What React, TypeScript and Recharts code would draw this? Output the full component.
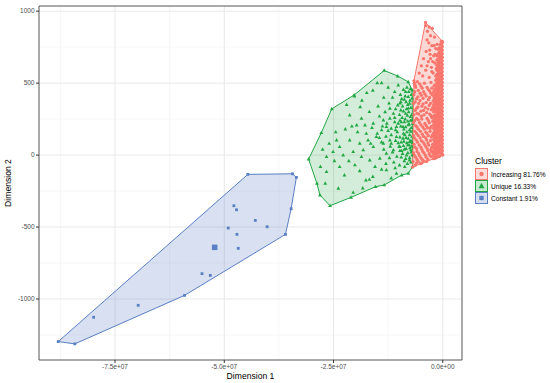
import React from "react";
import {
  ScatterChart,
  Scatter,
  XAxis,
  YAxis,
  CartesianGrid,
  ReferenceArea,
  Legend,
} from "recharts";

// x values are in millions (×1e6), y values as-is
const constantHull: [number, number][] = [
  [-88.0, -1296], [-84.2, -1312], [-59.1, -975], [-36.0, -551], [-34.7, -373],
  [-33.5, -155], [-34.4, -130], [-44.6, -134],
];
const constantInner: [number, number][] = [
  [-79.9, -1127], [-69.7, -1044], [-55.1, -824], [-53.2, -836], [-49.1, -507],
  [-47.8, -352], [-47.2, -380], [-47.1, -551], [-46.8, -648], [-42.9, -454], [-40.2, -498],
];
const constantBig: [number, number][] = [[-52.2, -641]];

const uniqueHull: [number, number][] = [
  [-30.7, -28], [-27.8, 155], [-25.4, 321], [-20.3, 417], [-13.4, 588], [-10.3, 549],
  [-7.9, 509], [-7.0, 451], [-6.9, -81], [-7.9, -127], [-9.4, -139], [-13.4, -208], [-15.4, -220],
  [-21.0, -294], [-25.8, -352], [-28.1, -278], [-28.8, -197],
];
const uniqueInner: [number, number][] = [
  [-15.0, 502], [-14.0, 502], [-20.2, 410], [-17.4, 433], [-10.2, 486], [-7.9, 405], [-8.8, 386],
  [-9.6, 370], [-10.3, 347], [-7.6, 359], [-14.8, 340], [-18.9, 335], [-16.8, 301], [-21.3, 278],
  [-18.6, 255], [-19.7, 208], [-17.8, 208], [-15.9, 220], [-13.6, 243], [-12.1, 255], [-11.3, 289],
  [-12.1, 324], [-9.6, 312], [-8.5, 289], [-7.4, 266], [-14.0, 174], [-12.9, 197], [-11.8, 185],
  [-10.6, 197], [-9.1, 197], [-7.6, 174], [-6.9, 220], [-15.2, 127], [-17.1, 104], [-19.0, 81],
  [-21.3, 104], [-23.6, 58], [-24.3, 104], [-25.1, 23], [-26.6, -12], [-22.8, 0], [-20.5, 23],
  [-18.2, 35], [-15.9, 58], [-13.6, 81], [-12.1, 104], [-10.6, 127], [-9.1, 116], [-7.6, 93],
  [-9.8, 58], [-11.3, 35], [-12.9, 12], [-14.4, -23], [-16.7, -35], [-18.6, -12], [-20.1, -69],
  [-23.6, -81], [-26.6, -116], [-22.5, -139], [-17.6, -174], [-16.8, -170], [-12.9, -104],
  [-10.6, -127], [-8.7, -81], [-7.6, -35], [-26.9, -197], [-23.9, -232],
  [-7.2, 420], [-7.5, 380], [-8.0, 350], [-7.3, 330], [-7.8, 300], [-8.3, 320], [-7.1, 280],
  [-8.6, 250], [-7.4, 240], [-7.9, 210], [-8.8, 230], [-9.3, 260], [-7.2, 190], [-8.2, 160],
  [-7.6, 140], [-9.0, 150], [-8.4, 120], [-7.3, 100], [-9.5, 90], [-8.0, 70], [-7.5, 50],
  [-8.8, 40], [-10.0, 60], [-7.2, 20], [-8.3, 0], [-9.2, 10], [-7.6, -20], [-10.5, -10],
  [-8.8, -40], [-11.5, 20], [-12.0, 60], [-10.8, 100], [-11.8, 140], [-12.5, 170], [-10.2, 220],
  [-11.0, 260], [-9.9, 280], [-10.8, 320], [-9.2, 340], [-8.5, 440], [-9.7, 420], [-11.5, 400],
  [-12.3, 360], [-13.2, 300], [-14.5, 270], [-13.0, 130], [-14.0, 90], [-15.0, 150], [-13.5, 40],
  [-11.2, -50], [-12.2, -20], [-14.0, -100], [-16.0, -150], [-9.8, 240], [-10.4, 160], [-9.4, 30],
  [-8.1, -60], [-7.1, 60], [-7.0, 130], [-8.9, 180], [-9.6, 200],
  [-7.4, 460], [-8.2, 470], [-9.0, 455], [-7.8, 440], [-9.4, 390], [-8.6, 410], [-7.0, 395],
  [-8.4, 370], [-9.8, 360], [-7.9, 325], [-9.0, 305], [-8.1, 275], [-7.0, 245], [-8.0, 235],
  [-9.5, 230], [-7.7, 215], [-8.5, 195], [-10.8, 175], [-7.3, 165], [-8.7, 140], [-9.8, 125],
  [-7.9, 115], [-8.9, 95], [-7.0, 85], [-8.2, 85], [-10.2, 85], [-7.7, 70], [-9.0, 65],
  [-8.4, 45], [-7.3, 35], [-9.8, 30], [-8.0, 15], [-7.0, 0], [-9.5, -15], [-8.5, -25],
  [-7.3, -50], [-9.9, -70], [-10.9, -90], [-11.8, 80], [-12.8, 220], [-11.0, 230], [-13.8, 200],
  [-16.2, 190], [-14.5, 120], [-16.5, 80], [-17.5, 150], [-19.5, 160], [-20.8, 200], [-22.3, 180],
  [-24.5, 160], [-26.0, 80], [-27.5, 40], [-28.0, -80], [-24.8, -40], [-21.5, -40], [-19.0, -110],
  [-15.5, -80], [-13.0, -60], [-11.8, -160], [-18.3, -230], [-20.5, -260], [-12.5, 470],
  [-16.0, 450], [-18.5, 380], [-22.0, 350], [-13.5, 400], [-11.0, 440],
];

const increasingHull: [number, number][] = [
  [-6.6, 516], [-3.95, 922], [-0.1, 790], [0.0, 0], [-6.9, -83],
];
const increasingScatter: [number, number][] = [
  [-3.9, 900], [-3.5, 860], [-2.8, 830], [-1.9, 820], [-3.2, 780], [-2.5, 760], [-1.6, 740],
  [-3.8, 720], [-2.9, 700], [-2.1, 690], [-4.4, 670], [-3.3, 650], [-1.8, 640], [-4.9, 620],
  [-2.6, 610], [-3.9, 590], [-5.4, 570], [-2.2, 570], [-4.6, 550], [-3.1, 540], [-1.5, 600],
  [-1.4, 690], [-1.3, 770],
  [-6.5, 500], [-5.8, 510], [-4.2, 500], [-2.7, 505], [-6.2, 470], [-5.0, 480], [-3.6, 470],
  [-2.0, 480], [-5.6, 450], [-4.4, 440], [-3.0, 445], [-6.6, 420], [-4.9, 415], [-3.8, 410],
  [-2.4, 420], [-6.0, 390], [-5.2, 380], [-3.3, 385], [-1.9, 395], [-6.7, 360], [-4.5, 355],
  [-2.8, 360], [-5.7, 335], [-4.0, 330], [-3.4, 320], [-2.3, 330], [-6.3, 310], [-5.0, 305],
  [-6.6, 280], [-5.5, 285], [-4.3, 280], [-3.0, 285], [-6.0, 255], [-4.8, 250], [-3.6, 255],
  [-2.5, 260], [-6.7, 225], [-5.3, 225], [-4.1, 220], [-3.1, 225], [-5.9, 195], [-4.6, 195],
  [-3.5, 190], [-2.6, 200], [-6.4, 165], [-5.1, 165], [-3.9, 160], [-2.9, 165], [-6.7, 135],
  [-5.6, 135], [-4.4, 130], [-3.3, 135], [-2.4, 140], [-6.1, 105], [-4.9, 100], [-3.7, 105],
  [-2.8, 100], [-6.6, 75], [-5.4, 70], [-4.2, 75], [-3.2, 70], [-2.3, 75], [-6.0, 45],
  [-4.8, 40], [-3.6, 45], [-2.7, 40], [-6.7, 15], [-5.5, 10], [-4.3, 15], [-3.1, 10],
  [-2.2, 15], [-6.2, -15], [-5.0, -20], [-3.8, -15], [-2.6, -10], [-6.8, -45], [-5.6, -45],
  [-4.4, -40], [-3.4, -30], [-6.3, -70], [-5.1, -60], [-1.8, -15],
  [-6.3, 485], [-5.3, 495], [-4.7, 465], [-3.3, 455], [-2.5, 465], [-6.4, 440], [-5.2, 430],
  [-4.1, 425], [-2.7, 430], [-5.7, 405], [-4.5, 395], [-3.0, 400], [-2.2, 375], [-6.3, 370],
  [-5.5, 360], [-3.8, 365], [-4.8, 340], [-3.1, 345], [-2.6, 315], [-6.0, 325], [-4.4, 310],
  [-3.7, 295], [-5.9, 290], [-4.9, 270], [-2.7, 275], [-6.4, 240], [-5.6, 245], [-3.3, 240],
  [-2.3, 235], [-5.0, 210], [-3.8, 205], [-6.2, 205], [-2.9, 185], [-4.2, 180], [-5.6, 180],
  [-6.0, 150], [-4.7, 145], [-3.6, 150], [-2.6, 125], [-5.2, 120], [-3.9, 120], [-6.5, 120],
  [-4.5, 90], [-3.4, 85], [-5.8, 90], [-2.5, 55], [-5.0, 55], [-3.9, 60], [-6.4, 55],
  [-5.9, 25], [-4.6, 25], [-3.4, 30], [-2.6, 25], [-5.3, -5], [-4.0, 0], [-2.9, -5],
  [-6.5, 0], [-5.9, -30], [-4.7, -30], [-3.7, -45], [-6.0, -55], [-4.8, -55], [-2.5, 580],
  [-3.6, 620], [-2.3, 650], [-3.0, 730], [-2.0, 760], [-3.6, 800], [-2.4, 880], [-3.1, 890],
  [-1.8, 700], [-2.8, 670],
];
// dense band of increasing points near x = 0
const increasingBandX = [-0.1, -0.35, -0.6, -0.85, -1.1, -1.35, -1.6, -1.85, -2.1];
const increasingBandY: number[][] = [
  [5, 30, 55, 80, 105, 130, 155, 180, 205, 230, 255, 280, 305, 330, 355, 380, 405, 430, 455, 480, 505, 530, 555, 580, 605, 630, 655, 680, 705, 730, 755, 780],
  [17, 42, 67, 93, 117, 143, 167, 193, 217, 243, 267, 293, 317, 343, 367, 393, 417, 443, 467, 493, 517, 543, 567, 593, 617, 643, 667, 693, 717, 743, 767, 790],
  [-5, 18, 42, 68, 92, 118, 142, 168, 192, 218, 242, 268, 292, 318, 342, 368, 392, 418, 442, 468, 492, 518, 542, 568, 592, 618, 642, 668, 692, 718, 742, 768],
  [-8, 25, 50, 75, 100, 125, 150, 175, 200, 225, 250, 275, 300, 325, 350, 375, 400, 425, 450, 475, 500, 525, 550, 575, 600, 625, 650, 678, 712, 745],
  [-10, 12, 38, 60, 88, 112, 135, 160, 188, 210, 238, 262, 285, 312, 335, 362, 388, 410, 435, 462, 488, 510, 535, 562, 585, 612, 640, 665, 700, 735],
  [-15, 20, 45, 72, 98, 122, 148, 172, 198, 222, 248, 272, 298, 322, 348, 372, 398, 422, 448, 475, 502, 530, 560, 590, 625, 660],
  [-20, 5, 30, 55, 85, 110, 130, 158, 182, 205, 232, 258, 280, 305, 330, 355, 382, 408, 432, 460, 490, 520, 548],
  [-22, 15, 42, 68, 95, 120, 145, 170, 196, 222, 250, 276, 310, 338, 365, 392, 420, 455, 485],
  [-25, 0, 28, 52, 78, 108, 132, 155, 185, 212, 240, 270, 300, 322, 350, 378, 410, 440],
];

const xTicks = [-7.5e7, -5e7, -2.5e7, 0];
const xTickLabels = ["-7.5e+07", "-5.0e+07", "-2.5e+07", "0.0e+00"];
const xMinor = [-8.75e7, -6.25e7, -3.75e7, -1.25e7];
const yTicks = [-1000, -500, 0, 500, 1000];
const yMinor = [-1250, -750, -250, 250, 750];
const xDomain: [number, number] = [-9.24e7, 4.4e6];
const yDomain: [number, number] = [-1424, 1036];

const clusters = [
  { name: "Increasing 81.76%", color: "#F8766D", shape: "circle" },
  { name: "Unique 16.33%", color: "#22A745", shape: "triangle" },
  { name: "Constant 1.91%", color: "#5B7FC4", shape: "square" },
];

const toPts = (arr: [number, number][]) => arr.map(([x, y]) => ({ x: x * 1e6, y }));

const RED = clusters[0].color;
const GREEN = clusters[1].color;
const BLUE = clusters[2].color;

const redBand = increasingBandX.flatMap((x, i) =>
  increasingBandY[i].map((y) => ({ x: x * 1e6, y }))
);
const redPts = [...toPts(increasingHull), ...toPts(increasingScatter), ...redBand];
const greenPts = [...toPts(uniqueHull), ...toPts(uniqueInner)];
const bluePts = [...toPts(constantHull), ...toPts(constantInner)];
const blueBig = toPts(constantBig);

const hullLine = (color: string, opacity: number) => (p: any) => {
  const pts = (p.points || []).map((q: any) => `${q.x},${q.y}`).join(" ");
  return (
    <polygon
      points={pts}
      fill={color}
      fillOpacity={opacity}
      stroke={color}
      strokeWidth={1}
      strokeLinejoin="round"
    />
  );
};

const Empty = () => <g />;

const Circle = (color: string) => (p: any) => (
  <circle cx={p.cx} cy={p.cy} r={1.65} fill={color} />
);
const Tri = (color: string) => (p: any) => (
  <polygon
    points={`${p.cx},${p.cy - 2.1} ${p.cx - 1.9},${p.cy + 1.3} ${p.cx + 1.9},${p.cy + 1.3}`}
    fill={color}
  />
);
const Sq = (color: string, s: number) => (p: any) => (
  <rect x={p.cx - s / 2} y={p.cy - s / 2} width={s} height={s} fill={color} />
);

const KeyIcon = ({ color, shape }: { color: string; shape: string }) => (
  <svg width={13} height={12} style={{ display: "block" }}>
    <rect x={0.5} y={0.5} width={12} height={11} fill={color} fillOpacity={0.25} stroke={color} strokeWidth={1} />
    {shape === "circle" && <circle cx={6.5} cy={6} r={2.2} fill={color} />}
    {shape === "triangle" && <polygon points="6.5,2.8 3.6,8.3 9.4,8.3" fill={color} />}
    {shape === "square" && <rect x={4.3} y={3.8} width={4.4} height={4.4} fill={color} />}
  </svg>
);

const LegendContent = () => (
  <div style={{ fontFamily: "'Liberation Sans', Arial, sans-serif", color: "#000" }}>
    <div style={{ fontSize: 8.5, lineHeight: "13px", height: 13 }}>Cluster</div>
    {clusters.map((c) => (
      <div key={c.name} style={{ display: "flex", alignItems: "center", height: 12 }}>
        <KeyIcon color={c.color} shape={c.shape} />
        <span style={{ fontSize: 6.6, marginLeft: 3, whiteSpace: "nowrap" }}>{c.name}</span>
      </div>
    ))}
  </div>
);

export default function App() {
  return (
    <div
      style={{
        position: "absolute",
        left: 0,
        top: 0,
        width: 550,
        height: 383,
        background: "#fff",
        fontFamily: "'Liberation Sans', Arial, sans-serif",
      }}
    >
      <ScatterChart width={550} height={383} margin={{ top: 6, right: 88, bottom: 0, left: 0 }}>
        <CartesianGrid
          stroke="#f0f0f0"
          strokeWidth={0.6}
          horizontalValues={yMinor}
          verticalValues={xMinor}
        />
        <CartesianGrid
          stroke="#e8e8e8"
          strokeWidth={1}
          horizontalValues={yTicks}
          verticalValues={xTicks}
        />
        <XAxis
          type="number"
          dataKey="x"
          domain={xDomain}
          allowDataOverflow
          ticks={xTicks}
          interval={0}
          tickFormatter={(v: number) => xTickLabels[xTicks.indexOf(v)] ?? String(v)}
          height={23}
          tickSize={3}
          tickMargin={1}
          axisLine={false}
          tickLine={{ stroke: "#333" }}
          tick={{ fontSize: 6.5, fill: "#4d4d4d" }}
          label={() => (
            <text x={250.5} y={376} textAnchor="middle" dominantBaseline="central" fontSize={8.6} fill="#000">
              Dimension 1
            </text>
          )}
        />
        <YAxis
          type="number"
          dataKey="y"
          domain={yDomain}
          allowDataOverflow
          ticks={yTicks}
          interval={0}
          width={39}
          tickSize={3}
          tickMargin={1.5}
          axisLine={false}
          tickLine={{ stroke: "#333" }}
          tick={{ fontSize: 6.5, fill: "#4d4d4d" }}
          label={() => (
            <text
              x={8.3}
              y={183}
              textAnchor="middle"
              dominantBaseline="central"
              fontSize={8.6}
              fill="#000"
              transform="rotate(-90, 8.3, 183)"
            >
              Dimension 2
            </text>
          )}
        />
        <Scatter data={toPts(constantHull)} shape={Empty} line={hullLine(BLUE, 0.24)} lineType="joint" isAnimationActive={false} legendType="none" />
        <Scatter data={toPts(uniqueHull)} shape={Empty} line={hullLine(GREEN, 0.2)} lineType="joint" isAnimationActive={false} legendType="none" />
        <Scatter data={toPts(increasingHull)} shape={Empty} line={hullLine(RED, 0.28)} lineType="joint" isAnimationActive={false} legendType="none" />
        <Scatter data={bluePts} shape={Sq(BLUE, 2.8)} isAnimationActive={false} />
        <Scatter data={blueBig} shape={Sq(BLUE, 5.5)} isAnimationActive={false} />
        <Scatter data={greenPts} shape={Tri(GREEN)} isAnimationActive={false} />
        <Scatter data={redPts} shape={Circle(RED)} isAnimationActive={false} />
        <ReferenceArea
          x1={xDomain[0]}
          x2={xDomain[1]}
          y1={yDomain[0]}
          y2={yDomain[1]}
          fill="none"
          stroke="#555"
          strokeWidth={1}
          ifOverflow="visible"
        />
        <Legend
          layout="vertical"
          align="center"
          verticalAlign="middle"
          content={LegendContent}
          wrapperStyle={{ position: "absolute", left: 475, top: 155, right: "auto", bottom: "auto", width: 75 }}
        />
      </ScatterChart>
    </div>
  );
}
